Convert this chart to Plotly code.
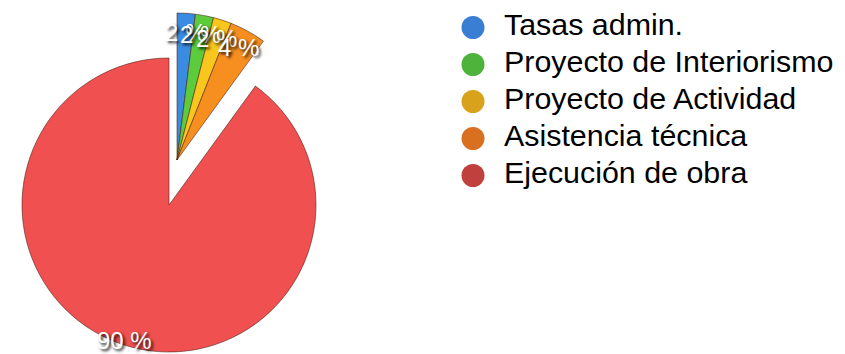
import math
import plotly.graph_objects as go

# ---------------- data ----------------
categories = ["Tasas admin.", "Proyecto de Interiorismo", "Proyecto de Actividad",
              "Asistencia técnica", "Ejecución de obra"]
values = [2, 2, 2, 4, 90]
slice_colors = ["#3a8be2", "#5ccb3c", "#f8c61c", "#f78f20", "#f05050"]
legend_colors = ["#3a7ed4", "#4db33b", "#d8a31a", "#d8701f", "#c0403d"]
main_category = "Ejecución de obra"

# ---------------- layout constants (figure pixels) ----------------
W, H = 845, 354
R = 147                       # pie radius in px
RED_C = (161, 197)            # centre of the large slice
SMALL_C = (169, 152)          # centre of the exploded group
CLEAR = "rgba(0,0,0,0)"
EDGE = "rgba(70,25,15,0.55)"
LEG_DOMAIN = (0.5, 1.0)
LEG_MARK_PX, LEG_TEXT_PX = 465, 496
ROW, FIRST = 37.0, 19.5
MAIN_LABEL_R = 0.97
SMALL_LABEL_R = 0.87


def domain_for(center, r):
    cx, cy = center
    return dict(x=[(cx - r) / W, (cx + r) / W],
                y=[(H - (cy + r)) / H, (H - (cy - r)) / H])


def leg_x(px):
    x0 = LEG_DOMAIN[0] * W
    return (px - x0) / ((LEG_DOMAIN[1] - LEG_DOMAIN[0]) * W)


labels_txt = [f"{v} %" for v in values]
is_main = [c == main_category for c in categories]

font_family = "Liberation Sans, Arial, sans-serif"
text_font = dict(family=font_family, size=24, color="white",
                 shadow="2px 2px 3px rgba(0,0,0,0.9)")

fig = go.Figure()

# large slice (others transparent)
fig.add_trace(go.Pie(
    labels=categories, values=values, sort=False, direction="clockwise", rotation=0,
    marker=dict(colors=[c if m else CLEAR for c, m in zip(slice_colors, is_main)],
                line=dict(color=[EDGE if m else CLEAR for m in is_main],
                          width=[1 if m else 0 for m in is_main])),
    textinfo="none",
    domain=domain_for(RED_C, R), showlegend=False, hoverinfo="skip",
))

# exploded small slices (large one transparent)
fig.add_trace(go.Pie(
    labels=categories, values=values, sort=False, direction="clockwise", rotation=0,
    marker=dict(colors=[CLEAR if m else c for c, m in zip(slice_colors, is_main)],
                line=dict(color=[CLEAR if m else EDGE for m in is_main],
                          width=[0 if m else 1 for m in is_main])),
    textinfo="none",
    domain=domain_for(SMALL_C, R), showlegend=False, hoverinfo="skip",
))

# percentage labels, each at its slice's mid-angle
total = sum(values)
cum = 0
for cat, v, txt, m in zip(categories, values, labels_txt, is_main):
    mid = (cum + v / 2) / total * 2 * math.pi
    cum += v
    cx, cy = RED_C if m else SMALL_C
    rr = (MAIN_LABEL_R if m else SMALL_LABEL_R) * R
    lx = cx + rr * math.sin(mid)
    ly = cy - rr * math.cos(mid)
    fig.add_annotation(
        x=lx / W, y=1 - ly / H, xref="paper", yref="paper",
        text=txt, showarrow=False, font=text_font,
        xanchor="center", yanchor="middle",
    )

# legend drawn as a small scatter on a hidden axis
fig.add_trace(go.Scatter(
    x=[leg_x(LEG_MARK_PX)] * len(categories), y=categories, mode="markers",
    marker=dict(size=23, color=legend_colors, line=dict(width=0)),
    showlegend=False, hoverinfo="skip", cliponaxis=False,
))
fig.add_trace(go.Scatter(
    x=[leg_x(LEG_TEXT_PX)] * len(categories), y=categories, mode="text",
    text=categories, textposition="middle right",
    textfont=dict(family=font_family, size=30.4, color="black"),
    showlegend=False, hoverinfo="skip", cliponaxis=False,
))

fig.update_layout(
    width=W, height=H, autosize=False,
    margin=dict(l=0, r=0, t=0, b=0),
    paper_bgcolor="white", plot_bgcolor="white",
    xaxis=dict(domain=list(LEG_DOMAIN), range=[0, 1], visible=False, fixedrange=True),
    yaxis=dict(domain=[0, 1], type="category", categoryarray=categories,
               range=[(H - FIRST) / ROW, -FIRST / ROW], visible=False, fixedrange=True),
    showlegend=False,
)

fig.write_html("out.html")
